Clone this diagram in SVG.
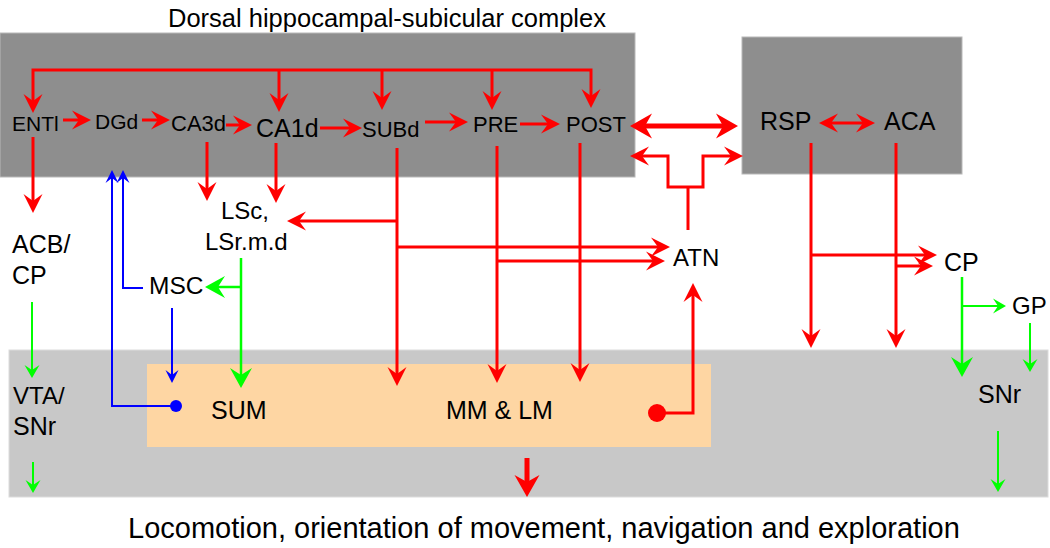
<svg xmlns="http://www.w3.org/2000/svg" width="1050" height="548" viewBox="0 0 1050 548">
<style>
text{font-family:"Liberation Sans",Arial,sans-serif;fill:#000}
.r{stroke:#ff0000;stroke-width:3;fill:none}
.rt{stroke:#ff0000;stroke-width:5;fill:none}
.g{stroke:#00ff00;stroke-width:2.5;fill:none}
.gs{stroke:#00ff00;stroke-width:2;fill:none}
.b{stroke:#0000ff;stroke-width:2;fill:none}
.ar{marker-end:url(#ar)}
</style>
<defs>
<marker id="ar" markerUnits="userSpaceOnUse" markerWidth="40" markerHeight="40" viewBox="-20 -20 40 40" refX="0" refY="0" orient="auto-start-reverse" overflow="visible"><path d="M10,0 L-9,-9.5 L-2,0 L-9,9.5 Z" fill="#ff0000"/></marker>
<marker id="arL" markerUnits="userSpaceOnUse" markerWidth="40" markerHeight="40" viewBox="-20 -20 40 40" refX="0" refY="0" orient="auto-start-reverse" overflow="visible"><path d="M12,0 L-10,-12.5 L-3,0 L-10,12.5 Z" fill="#ff0000"/></marker>
<marker id="ag" markerUnits="userSpaceOnUse" markerWidth="40" markerHeight="40" viewBox="-20 -20 40 40" refX="0" refY="0" orient="auto" overflow="visible"><path d="M10,0 L-10,-11 L-3,0 L-10,11 Z" fill="#00ff00"/></marker>
<marker id="ags" markerUnits="userSpaceOnUse" markerWidth="30" markerHeight="30" viewBox="-15 -15 30 30" refX="0" refY="0" orient="auto" overflow="visible"><path d="M7,0 L-6,-7.5 L-1,0 L-6,7.5 Z" fill="#00ff00"/></marker>
<marker id="ab" markerUnits="userSpaceOnUse" markerWidth="30" markerHeight="30" viewBox="-15 -15 30 30" refX="0" refY="0" orient="auto" overflow="visible"><path d="M7,0 L-6,-6.5 L-1,0 L-6,6.5 Z" fill="#0000ff"/></marker>
</defs>
<rect width="1050" height="548" fill="#ffffff"/>
<g id="regions">
<rect id="hippocampal-box" x="0" y="33" width="635" height="144" fill="#8e8e8e" stroke="#b8b8b8" stroke-width="1"/>
<rect id="cortex-box" x="742" y="37" width="220" height="137" fill="#8e8e8e" stroke="#b8b8b8" stroke-width="1"/>
<rect id="brainstem-box" x="9" y="350" width="1039" height="147" fill="#c8c8c8" stroke="#dcdcdc" stroke-width="1"/>
<rect id="mammillary-box" x="147" y="364" width="564" height="83" fill="#fed6a3"/>
</g>
<text id="title" x="168" y="27" font-size="25.5">Dorsal hippocampal-subicular complex</text>
<g id="connectors">
<path class="r" d="M33,103 V70 H591 V98" marker-start="url(#ar)" marker-end="url(#ar)"/>
<path class="r ar" d="M279,70 V102"/>
<path class="r ar" d="M382,70 V100"/>
<path class="r ar" d="M492,70 V100"/>
<path class="r ar" d="M63,120 H81"/>
<path class="r ar" d="M142,120 H160"/>
<path class="r ar" d="M226,125 H242"/>
<path class="r ar" d="M320,128 H352"/>
<path class="r ar" d="M425,122 H458"/>
<path class="r ar" d="M520,124 H550"/>
<path class="r ar" d="M33,137 V203"/>
<path class="r ar" d="M207,142 V191"/>
<path class="r ar" d="M276,143 V193"/>
<path class="r ar" d="M397,148 V376"/>
<path class="r ar" d="M497,146 V373"/>
<path class="r ar" d="M580,143 V372"/>
<path class="r ar" d="M397,221 H297"/>
<path class="r ar" d="M397,247 H660"/>
<path class="r ar" d="M498,261 H655"/>
<path class="r" d="M640,156 H668 V187 H703 V156 H733" marker-start="url(#ar)" marker-end="url(#ar)"/>
<path class="r" d="M688,187 V230"/>
<path class="rt" d="M642,126 H726" marker-start="url(#arL)" marker-end="url(#arL)"/>
<path class="r" d="M829,123 H865" marker-start="url(#ar)" marker-end="url(#ar)"/>
<path class="r ar" d="M811,143 V338"/>
<path class="r ar" d="M896,143 V338"/>
<path class="r ar" d="M811,255 H927"/>
<path class="r ar" d="M896,266 H923"/>
<path class="r ar" d="M657,413 H693 V293"/>
<circle cx="657" cy="413" r="9" fill="#ff0000"/>
<path class="rt" d="M527,458 V485" marker-end="url(#arL)"/>
<path class="gs" d="M32,302 V371" marker-end="url(#ags)"/>
<path class="gs" d="M33,462 V486" marker-end="url(#ags)"/>
<path class="g" d="M241,258 V378" marker-end="url(#ag)"/>
<path class="g" d="M241,287 H215" marker-end="url(#ag)"/>
<path class="g" d="M962,277 V367" marker-end="url(#ag)"/>
<path class="gs" d="M962,306 H999" marker-end="url(#ags)"/>
<path class="gs" d="M1030,323 V365" marker-end="url(#ags)"/>
<path class="gs" d="M998,431 V485" marker-end="url(#ags)"/>
<path class="b" d="M176,406 H112 V177" marker-end="url(#ab)"/>
<path class="b" d="M143,288 H123 V177" marker-end="url(#ab)"/>
<path class="b" d="M172,308 V376" marker-end="url(#ab)"/>
<circle cx="176" cy="406" r="6" fill="#0000ff"/>
</g>
<g id="ENTl"><text x="12" y="131" font-size="21">ENTl</text></g>
<g id="DGd"><text x="95" y="129" font-size="21">DGd</text></g>
<g id="CA3d"><text x="171" y="131" font-size="22">CA3d</text></g>
<g id="CA1d"><text x="256" y="137" font-size="25">CA1d</text></g>
<g id="SUBd"><text x="362" y="137" font-size="22">SUBd</text></g>
<g id="PRE"><text x="473" y="132" font-size="22">PRE</text></g>
<g id="POST"><text x="566" y="132" font-size="22">POST</text></g>
<g id="RSP"><text x="760" y="130" font-size="25">RSP</text></g>
<g id="ACA"><text x="884" y="130" font-size="25">ACA</text></g>
<g id="LS"><text x="221" y="219" font-size="24">LSc,</text><text x="205" y="250" font-size="24">LSr.m.d</text></g>
<g id="ACB-CP"><text x="12" y="253" font-size="25">ACB/</text><text x="12" y="284" font-size="25">CP</text></g>
<g id="MSC"><text x="149" y="294" font-size="24.5">MSC</text></g>
<g id="ATN"><text x="673" y="266" font-size="24">ATN</text></g>
<g id="CP"><text x="944" y="271" font-size="25">CP</text></g>
<g id="GP"><text x="1012" y="314" font-size="24">GP</text></g>
<g id="VTA-SNr"><text x="13" y="404" font-size="24">VTA/</text><text x="13" y="435" font-size="25">SNr</text></g>
<g id="SUM"><text x="211" y="419" font-size="25">SUM</text></g>
<g id="MM-LM"><text x="446" y="419" font-size="25">MM &amp; LM</text></g>
<g id="SNr"><text x="978" y="403" font-size="25">SNr</text></g>
<text id="output" x="128" y="538" font-size="29">Locomotion, orientation of movement, navigation and exploration</text>
</svg>
